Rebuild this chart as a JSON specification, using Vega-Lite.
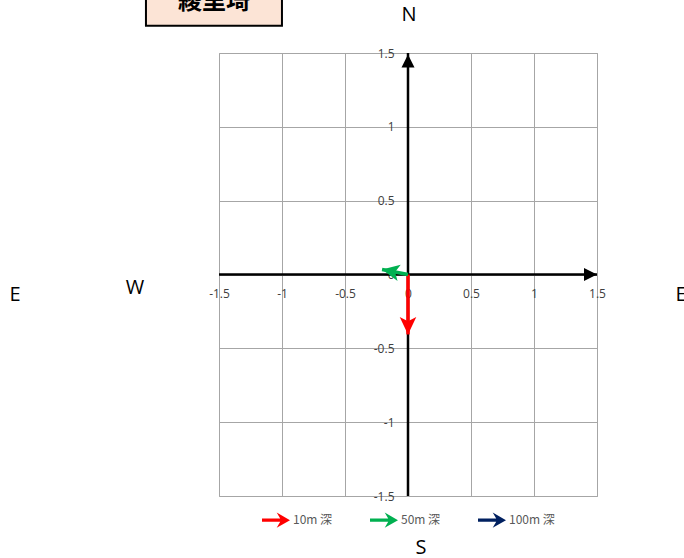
{
  "$schema": "https://vega.github.io/schema/vega-lite/v6.json",
  "width": 378,
  "height": 443,
  "autosize": {"type": "none"},
  "padding": {"left": 219, "top": 53, "right": 87, "bottom": 62},
  "background": "white",
  "config": {
    "view": {"stroke": "#A6A6A6", "strokeWidth": 1},
    "font": "Open Sans"
  },
  "datasets": {
    "currents": [
      {"depth": "10m 深", "u": 0, "v": -0.406},
      {"depth": "50m 深", "u": -0.206, "v": 0.034}
    ]
  },
  "layer": [
    {
      "data": {"values": [{}]},
      "mark": {"type": "rule", "color": "black", "strokeWidth": 2.5},
      "encoding": {
        "y": {
          "datum": 0, "type": "quantitative",
          "scale": {"domain": [-1.5, 1.5], "nice": false, "zero": false},
          "axis": {
            "values": [-1.5, -1, -0.5, 0, 0.5, 1, 1.5],
            "grid": true, "gridColor": "#A6A6A6", "gridWidth": 1,
            "domain": false, "ticks": false,
            "labelFontSize": 12, "labelColor": "#404040", "labelFont": "Open Sans",
            "offset": -189, "labelPadding": 14, "title": null,
            "labelFlush": false, "labelOverlap": false,
            "labelExpr": "toString(datum.value)"
          }
        }
      }
    },
    {
      "data": {"values": [{}]},
      "mark": {"type": "rule", "color": "black", "strokeWidth": 2.5},
      "encoding": {
        "x": {
          "datum": 0, "type": "quantitative",
          "scale": {"domain": [-1.5, 1.5], "nice": false, "zero": false},
          "axis": {
            "values": [-1.5, -1, -0.5, 0, 0.5, 1, 1.5],
            "grid": true, "gridColor": "#A6A6A6", "gridWidth": 1,
            "domain": false, "ticks": false,
            "labelFontSize": 12, "labelColor": "#404040", "labelFont": "Open Sans",
            "offset": -221.5, "labelPadding": 14, "title": null,
            "labelFlush": false, "labelOverlap": false,
            "labelExpr": "toString(datum.value)"
          }
        }
      }
    },
    {
      "data": {"values": [{}]},
      "mark": {"type": "point", "shape": "M0,0L0.65,1.3L-0.65,1.3Z", "size": 400, "angle": 90, "filled": true, "color": "black", "opacity": 1, "strokeWidth": 0},
      "encoding": {
        "x": {"datum": 1.5, "type": "quantitative"},
        "y": {"datum": 0, "type": "quantitative"}
      }
    },
    {
      "data": {"values": [{}]},
      "mark": {"type": "point", "shape": "M0,0L0.65,1.3L-0.65,1.3Z", "size": 400, "angle": 0, "filled": true, "color": "black", "opacity": 1, "strokeWidth": 0},
      "encoding": {
        "x": {"datum": 0, "type": "quantitative"},
        "y": {"datum": 1.49, "type": "quantitative"}
      }
    },
    {
      "data": {"name": "currents"},
      "transform": [{"calculate": "0", "as": "origin"}],
      "mark": {"type": "rule", "strokeCap": "butt", "strokeWidth": 3.5},
      "encoding": {
        "x": {"field": "origin", "type": "quantitative"},
        "y": {"field": "origin", "type": "quantitative"},
        "x2": {"field": "u"},
        "y2": {"field": "v"},
        "stroke": {
          "field": "depth", "type": "nominal",
          "scale": {"domain": ["10m 深", "50m 深"], "range": ["#FF0000", "#00B050"]},
          "legend": null
        }
      }
    },
    {
      "data": {"name": "currents"},
      "transform": [
        {"calculate": "atan2(datum.u * 126, datum.v * 147.67) * 180 / PI", "as": "ang"}
      ],
      "mark": {"type": "point", "shape": "M0,0L0.5,1.05L0,0.8L-0.5,1.05Z", "size": 1100, "filled": true, "opacity": 1, "strokeWidth": 0},
      "encoding": {
        "x": {"field": "u", "type": "quantitative"},
        "y": {"field": "v", "type": "quantitative"},
        "angle": {"field": "ang", "type": "quantitative", "scale": null},
        "fill": {
          "field": "depth", "type": "nominal",
          "scale": {"domain": ["10m 深", "50m 深", "100m 深"], "range": ["#FF0000", "#00B050", "#002060"]},
          "legend": {
            "orient": "none", "legendX": 43, "legendY": 453,
            "direction": "horizontal", "title": null,
            "symbolType": "M-1,-0.12L0.3,-0.12L0.05,-0.55L1,0L0.05,0.55L0.3,0.12L-1,0.12Z",
            "symbolSize": 784, "symbolStrokeWidth": 0, "symbolOpacity": 1,
            "labelFontSize": 12, "labelColor": "#595959", "labelFont": "Noto Sans CJK JP",
            "labelOffset": 3, "columnPadding": 31, "gridAlign": "all", "padding": 0
          }
        }
      }
    },
    {
      "data": {"values": [{}]},
      "mark": {"type": "point", "shape": "M-1,-0.26L1,-0.26L1,0.26L-1,0.26Z", "size": 18496, "filled": false, "fill": "#FCE4D6", "stroke": "black", "strokeWidth": 2, "opacity": 1},
      "encoding": {
        "x": {"datum": -1.54, "type": "quantitative"},
        "y": {"datum": 1.805, "type": "quantitative"}
      }
    },
    {
      "data": {"values": [{}]},
      "mark": {"type": "text", "text": "綾里埼", "font": "Noto Sans CJK JP", "fontSize": 24, "fontWeight": "bold", "color": "black", "align": "center", "baseline": "middle"},
      "encoding": {
        "x": {"datum": -1.54, "type": "quantitative"},
        "y": {"datum": 1.845, "type": "quantitative"}
      }
    },
    {
      "data": {"values": [{}]},
      "mark": {"type": "text", "text": "E", "font": "Open Sans", "fontSize": 20, "color": "black", "align": "center", "baseline": "middle"},
      "encoding": {
        "x": {"datum": -3.119, "type": "quantitative"},
        "y": {"datum": -0.139, "type": "quantitative"}
      }
    },
    {
      "data": {"values": [{}]},
      "mark": {"type": "text", "text": "W", "font": "Open Sans", "fontSize": 20, "color": "black", "align": "center", "baseline": "middle"},
      "encoding": {
        "x": {"datum": -2.167, "type": "quantitative"},
        "y": {"datum": -0.091, "type": "quantitative"}
      }
    },
    {
      "data": {"values": [{}]},
      "mark": {"type": "text", "text": "E", "font": "Open Sans", "fontSize": 20, "color": "black", "align": "center", "baseline": "middle"},
      "encoding": {
        "x": {"datum": 2.167, "type": "quantitative"},
        "y": {"datum": -0.139, "type": "quantitative"}
      }
    },
    {
      "data": {"values": [{}]},
      "mark": {"type": "text", "text": "N", "font": "Open Sans", "fontSize": 20, "color": "black", "align": "center", "baseline": "middle"},
      "encoding": {
        "x": {"datum": 0.008, "type": "quantitative"},
        "y": {"datum": 1.757, "type": "quantitative"}
      }
    },
    {
      "data": {"values": [{}]},
      "mark": {"type": "text", "text": "S", "font": "Open Sans", "fontSize": 20, "color": "black", "align": "center", "baseline": "middle"},
      "encoding": {
        "x": {"datum": 0.103, "type": "quantitative"},
        "y": {"datum": -1.852, "type": "quantitative"}
      }
    }
  ]
}
